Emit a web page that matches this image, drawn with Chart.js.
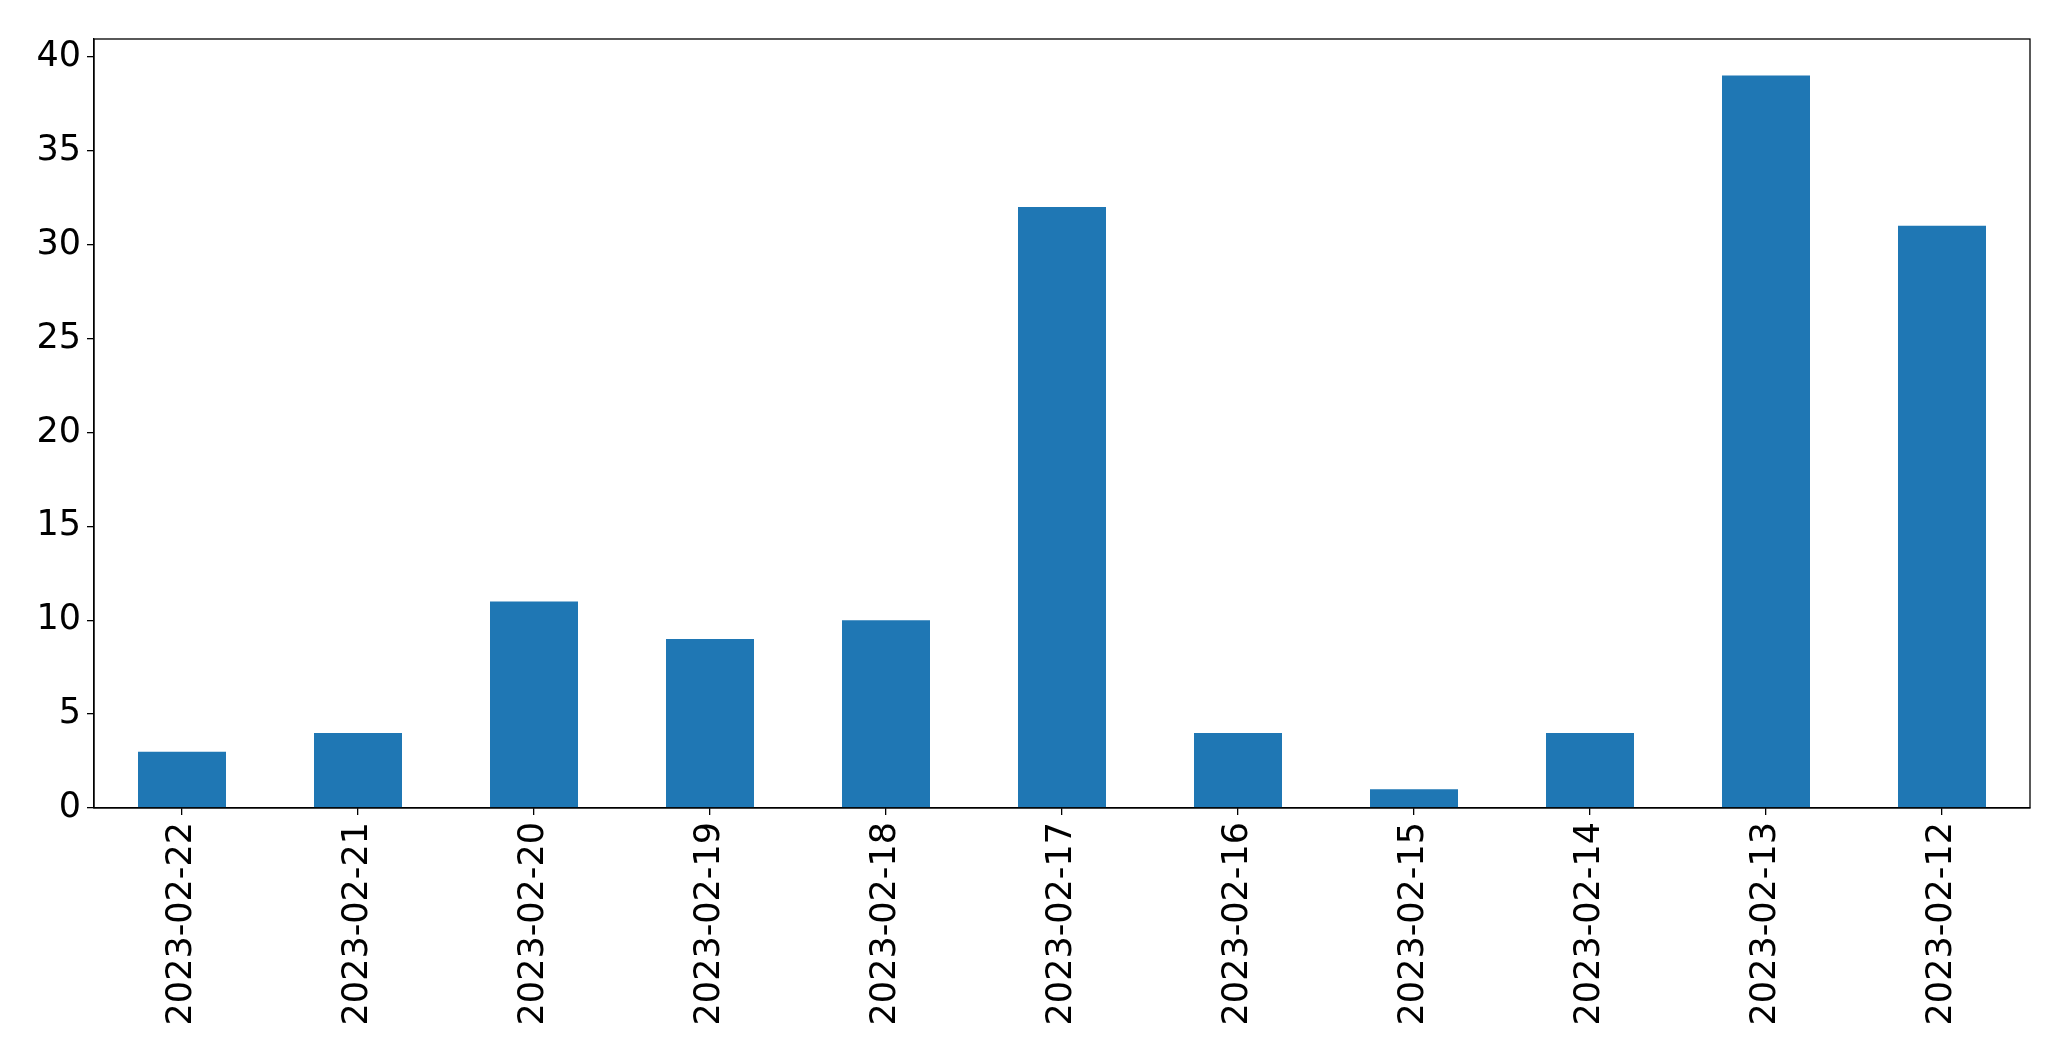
<!DOCTYPE html>
<html>
<head>
<meta charset="utf-8">
<script src="https://cdn.jsdelivr.net/npm/chart.js@4"></script>
<style>
html,body{margin:0;padding:0;background:#fff;overflow:hidden;}
#wrap{width:2071px;height:1061px;position:relative;}
</style>
</head>
<body>
<div id="wrap"><canvas id="c"></canvas></div>
<script>
const categories = ["2023-02-22","2023-02-21","2023-02-20","2023-02-19","2023-02-18","2023-02-17","2023-02-16","2023-02-15","2023-02-14","2023-02-13","2023-02-12"];
const values = [3, 4, 11, 9, 10, 32, 4, 1, 4, 39, 31];
const yTicks = [0, 5, 10, 15, 20, 25, 30, 35, 40];

const frame = {
  id: 'frame',
  afterDraw(chart) {
    const {ctx, chartArea: a} = chart;
    ctx.save();
    ctx.strokeStyle = '#000';
    ctx.lineWidth = 1.3;
    ctx.strokeRect(a.left, a.top, a.right - a.left, a.bottom - a.top);
    ctx.restore();
  }
};

const font = {family: "'DejaVu Sans', sans-serif", size: 35};

new Chart(document.getElementById('c'), {
  type: 'bar',
  data: {
    labels: categories,
    datasets: [{data: values, backgroundColor: '#1f77b4', borderWidth: 0,
      categoryPercentage: 1, barPercentage: 0.5}]
  },
  options: {
    responsive: true,
    maintainAspectRatio: false,
    animation: false,
    devicePixelRatio: 1,
    layout: {padding: {top: 39, right: 41, left: 0, bottom: 0}},
    plugins: {legend: {display: false}, tooltip: {enabled: false}},
    scales: {
      x: {
        offset: true,
        grid: {display: true, offset: false, drawOnChartArea: false, drawTicks: true, tickLength: 7, color: '#000', lineWidth: 1.3},
        border: {display: true, color: '#000', width: 1.3},
        ticks: {color: '#000', font: font, minRotation: 90, maxRotation: 90, autoSkip: false, padding: 7},
        afterFit(s) { s.height = 253; }
      },
      y: {
        min: 0, max: 40.95,
        grid: {display: true, drawOnChartArea: false, drawTicks: true, tickLength: 7, color: '#000', lineWidth: 1.3},
        border: {display: true, color: '#000', width: 1.3},
        ticks: {color: '#000', font: font, padding: 6},
        afterBuildTicks(s) { s.ticks = yTicks.map(v => ({value: v})); },
        afterFit(s) { s.width = 94; }
      }
    }
  },
  plugins: [frame]
});
</script>
</body>
</html>
